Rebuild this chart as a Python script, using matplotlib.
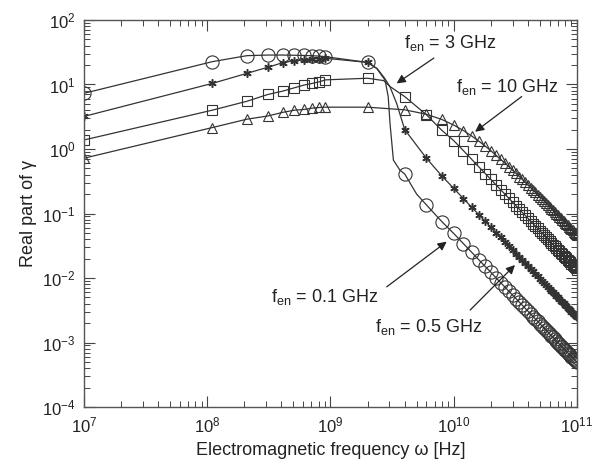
import matplotlib
matplotlib.use("Agg")
import matplotlib.pyplot as plt
import numpy as np

plt.rcParams['font.family'] = ['Liberation Sans', 'DejaVu Sans']
plt.rcParams['mathtext.fontset'] = 'custom'
plt.rcParams['mathtext.rm'] = 'Liberation Sans'
plt.rcParams['mathtext.it'] = 'Liberation Sans:italic'
plt.rcParams['mathtext.bf'] = 'Liberation Sans:bold'

# Frequency grid of the markers (GHz)
freq_low = [0.01, 0.11, 0.21, 0.31, 0.41, 0.51, 0.61, 0.71, 0.81, 0.91]
freq_high = [2, 4, 6, 8, 10, 12, 14, 16, 18, 20, 22, 24, 26, 28, 30, 32, 34, 36,
             38, 40, 42, 44, 46, 48, 50, 52, 54, 56, 58, 60, 62, 64, 66, 68, 70,
             72, 74, 76, 78, 80, 82, 84, 86, 88, 90, 92, 94, 96, 98, 100]

# Real part of gamma, fen = 0.1 GHz (circles)
gamma_01 = [7.3, 22.6, 28.0, 28.6, 28.6, 28.4, 28.2, 28.0, 27.5, 27.0,
            22.0, 0.41, 0.136, 0.075, 0.049, 0.034, 0.025, 0.0191, 0.0151, 0.0123,
            0.0101, 0.0085, 0.00725, 0.00625, 0.00544, 0.00479, 0.00424, 0.00378,
            0.00339, 0.00306, 0.00278, 0.00253, 0.00232, 0.00213, 0.00196, 0.00181,
            0.00168, 0.00156, 0.00146, 0.00136, 0.00127, 0.0012, 0.00112, 0.00106,
            0.001, 0.000945, 0.000895, 0.000848, 0.000805, 0.000766, 0.000729,
            0.000694, 0.000663, 0.000633, 0.000605, 0.000579, 0.000555, 0.000532,
            0.00051, 0.00049]
# fen = 0.5 GHz (stars)
gamma_05 = [3.2, 10.4, 14.9, 18.5, 21.8, 23.4, 24.2, 24.8, 25.2, 25.5,
            22.0, 2.0, 0.72, 0.383, 0.245, 0.170, 0.125, 0.0957, 0.0756, 0.0613,
            0.0506, 0.0425, 0.0362, 0.0313, 0.0272, 0.0239, 0.0212, 0.0189, 0.0170,
            0.0153, 0.0139, 0.0127, 0.0116, 0.0106, 0.0098, 0.00906, 0.0084,
            0.00781, 0.00728, 0.0068, 0.00637, 0.00598, 0.00562, 0.0053, 0.005,
            0.00473, 0.00447, 0.00424, 0.00403, 0.00383, 0.00364, 0.00347, 0.00331,
            0.00316, 0.00302, 0.00289, 0.00277, 0.00266, 0.00255, 0.00245]
# fen = 3 GHz (squares)
gamma_3 = [1.38, 4.0, 5.5, 7.0, 7.9, 8.9, 9.8, 10.4, 11.0, 11.8,
           12.5, 6.5, 3.4, 1.95, 1.35, 0.94, 0.69, 0.527, 0.417, 0.338, 0.279,
           0.234, 0.200, 0.172, 0.150, 0.132, 0.117, 0.104, 0.0935, 0.0844, 0.0765,
           0.0697, 0.0638, 0.0586, 0.054, 0.0499, 0.0463, 0.043, 0.0401, 0.0375,
           0.0351, 0.033, 0.031, 0.0292, 0.0276, 0.026, 0.0247, 0.0234, 0.0222,
           0.0211, 0.0201, 0.0191, 0.0183, 0.0174, 0.0167, 0.0159, 0.0153, 0.0146,
           0.0141, 0.0135]
# fen = 10 GHz (triangles)
gamma_10 = [0.72, 2.15, 2.9, 3.25, 3.7, 4.0, 4.1, 4.3, 4.4, 4.45,
            4.45, 4.05, 3.46, 2.87, 2.35, 1.93, 1.59, 1.32, 1.11, 0.94, 0.80,
            0.69, 0.606, 0.532, 0.47, 0.418, 0.374, 0.337, 0.304, 0.276, 0.252,
            0.231, 0.212, 0.196, 0.181, 0.168, 0.156, 0.145, 0.136, 0.127, 0.119,
            0.112, 0.105, 0.0995, 0.094, 0.089, 0.0843, 0.080, 0.076, 0.0723,
            0.0689, 0.0657, 0.0627, 0.0599, 0.0573, 0.0549, 0.0526, 0.0505,
            0.0484, 0.0465]

# extra curve points around the drop (no markers there)
knee_01_f = [2.37, 2.77, 2.94, 3.04, 3.24, 3.66, 5.0]
knee_01_g = [17.8, 11.7, 6.5, 2.5, 0.67, 0.47, 0.2]
knee_05_f = [2.4, 2.75, 3.04, 3.44]
knee_05_g = [17.5, 12.5, 9.2, 5.1]
knee_3_f = [2.7, 3.04]
knee_3_g = [11.5, 9.3]

freq = np.array(freq_low + freq_high) * 1e9

fig = plt.figure(figsize=(5.95, 4.65), dpi=100)
ax = fig.add_axes([0.1412, 0.1247, 0.8285, 0.8323])

lc = '#333333'
series = [
    (gamma_01, knee_01_f, knee_01_g, dict(marker='o', ms=9.5, mfc='none')),
    (gamma_05, knee_05_f, knee_05_g, dict(marker=(6, 2, 0), ms=6, mfc=lc, mew=1.1)),
    (gamma_3, knee_3_f, knee_3_g, dict(marker='s', ms=6.5, mfc='none')),
    (gamma_10, [], [], dict(marker='^', ms=7, mfc='none')),
]
for g, kf, kg, mk in series:
    lx = np.concatenate([freq, np.array(kf) * 1e9])
    ly = np.concatenate([g, kg])
    order = np.argsort(lx)
    ax.plot(lx[order], ly[order], '-', color=lc, lw=0.9)
    style = dict(mew=0.8)
    style.update(mk)
    ax.plot(freq, g, ls='none', mec=lc, color=lc, **style)

ax.set_xscale('log')
ax.set_yscale('log')
ax.set_xlim(1e7, 1e11)
ax.set_ylim(1e-4, 1e2)

ax.tick_params(which='both', direction='in', top=True, right=True,
               colors='#444444', labelcolor='#222222', labelsize=12)
ax.tick_params(which='major', length=8, width=0.8, pad=6)
ax.tick_params(which='minor', length=4, width=0.7)
ax.xaxis.set_minor_locator(matplotlib.ticker.LogLocator(base=10, subs=np.arange(2, 10), numticks=20))
ax.yaxis.set_minor_locator(matplotlib.ticker.LogLocator(base=10, subs=np.arange(2, 10), numticks=20))
ax.xaxis.set_minor_formatter(matplotlib.ticker.NullFormatter())
ax.yaxis.set_minor_formatter(matplotlib.ticker.NullFormatter())
for s in ax.spines.values():
    s.set_color('#555555')
    s.set_linewidth(1.0)

ax.set_xlabel('Electromagnetic frequency ω [Hz]', fontsize=13, color='#222222', labelpad=5)
ax.set_ylabel('Real part of γ', fontsize=13, color='#222222', labelpad=4)

# labels with arrows
notes = [
    (r'$\mathrm{f_{en}}$ = 3 GHz', (9.3e9, 44), (6.9e9, 25.7), (3.44e9, 10.4)),
    (r'$\mathrm{f_{en}}$ = 10 GHz', (2.7e10, 9.1), (3.56e10, 6.5), (1.49e10, 1.85)),
    (r'$\mathrm{f_{en}}$ = 0.1 GHz', (9.0e8, 5.1e-3), (2.86e9, 7.3e-3), (8.77e9, 0.0366)),
    (r'$\mathrm{f_{en}}$ = 0.5 GHz', (6.3e9, 1.76e-3), (1.36e10, 3.19e-3), (3.14e10, 0.0159)),
]
for txt, pos, tail, tip in notes:
    ax.text(pos[0], pos[1], txt, fontsize=13, ha='center', va='center', color='#222222')
    ax.annotate('', xy=tip, xytext=tail,
                arrowprops=dict(arrowstyle='-|>', color='#222222', lw=0.9,
                                mutation_scale=13, shrinkA=0, shrinkB=0))

fig.savefig('out.png', dpi=100)
